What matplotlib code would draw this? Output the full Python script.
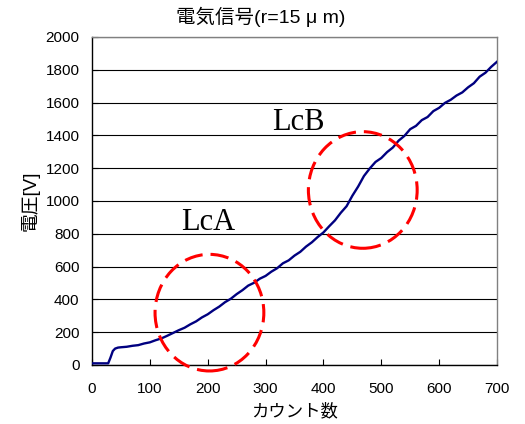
import matplotlib
matplotlib.use('Agg')
import matplotlib.pyplot as plt
from matplotlib.patches import Ellipse

plt.rcParams['font.family'] = ['Liberation Sans', 'Noto Sans CJK JP']

# (count, voltage)
counts = [0, 10, 20, 28, 32, 36, 40, 45, 50, 60, 70, 80, 90, 100,
          110, 120, 130, 140, 150, 160, 170, 180, 190, 200,
          210, 220, 230, 240, 250, 260, 270, 280, 290, 300,
          310, 320, 330, 340, 350, 360, 370, 380, 390, 400,
          410, 420, 430, 440, 450, 460, 470, 480, 490, 500,
          510, 520, 530, 540, 550, 560, 570, 580, 590, 600,
          610, 620, 630, 640, 650, 660, 670, 680, 690, 700]
voltage = [10, 10, 10, 10, 45, 85, 100, 106, 108, 111, 117, 121, 131, 138,
           151, 162, 178, 195, 212, 227, 248, 266, 290, 309,
           334, 356, 383, 404, 432, 456, 484, 501, 526, 543,
           569, 590, 620, 638, 667, 690, 722, 748, 780, 808,
           846, 882, 928, 968, 1032, 1088, 1152, 1198, 1238, 1262,
           1298, 1326, 1368, 1397, 1438, 1458, 1493, 1512, 1548, 1568,
           1598, 1617, 1643, 1662, 1693, 1718, 1758, 1782, 1818, 1849]

x_ticks = [0, 100, 200, 300, 400, 500, 600, 700]
y_ticks = [0, 200, 400, 600, 800, 1000, 1200, 1400, 1600, 1800, 2000]

fig = plt.figure(figsize=(5.25, 4.24), dpi=100, facecolor='white')
ax = fig.add_axes((0.1752, 0.1392, 0.7715, 0.7736))

ax.plot(counts, voltage, color='#000080', lw=1.7, zorder=3)

ax.set_xlim(0, 700)
ax.set_ylim(0, 2000)
ax.set_xticks(x_ticks)
ax.set_yticks(y_ticks)
ax.yaxis.grid(True, color='black', lw=0.8)
ax.set_axisbelow(True)

ax.tick_params(direction='in', length=4, width=0.8, labelsize=11)
ax.tick_params(axis='y', pad=9)
ax.tick_params(axis='x', pad=12)

for s in ['left', 'bottom']:
    ax.spines[s].set_color('black')
    ax.spines[s].set_linewidth(1.0)
for s in ['top', 'right']:
    ax.spines[s].set_color('#808080')
    ax.spines[s].set_linewidth(1.0)

# highlighted regions
for cx, cy in [(203, 319), (468, 1067)]:
    ax.add_patch(Ellipse((cx, cy), 188, 711, fill=False, edgecolor='#FF0000',
                         lw=2.2, linestyle=(0, (6.0, 2.6)), clip_on=False, zorder=4))

ax.text(200, 821, 'LcA', family='Liberation Serif', fontsize=22,
        ha='center', va='baseline', zorder=5)
ax.text(357, 1433, 'LcB', family='Liberation Serif', fontsize=22,
        ha='center', va='baseline', zorder=5)

fig.text(261 / 525, 1 - 17 / 424, '電気信号(r=15 μ m)', fontsize=14,
         ha='center', va='center')
ax.set_xlabel('カウント数', fontsize=12.5, labelpad=5)
ax.set_ylabel('電圧[V]', fontsize=13.5, labelpad=4)

fig.savefig('out.png', dpi=100, facecolor='white')
